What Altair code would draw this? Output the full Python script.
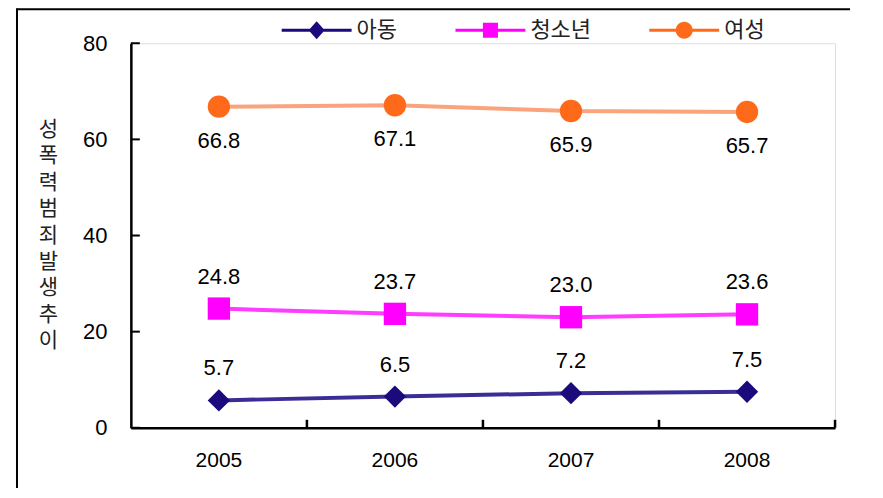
import altair as alt
import pandas as pd

years = ["2005", "2006", "2007", "2008"]
series_names = ["아동", "청소년", "여성"]
child = [5.7, 6.5, 7.2, 7.5]
youth = [24.8, 23.7, 23.0, 23.6]
women = [66.8, 67.1, 65.9, 65.7]
y_ticks = [0, 20, 40, 60, 80]

marker_colors = ["#1a0a7c", "#ff00ff", "#ff6a1a"]
line_colors = ["#3a2e96", "#ff3cff", "#f9a47e"]
shapes = ["diamond", "square", "circle"]

LINE = "M-1,-0.045H1V0.045H-1Z"
legend_paths = [
    LINE + "M0,-0.26L0.23,0L0,0.26L-0.23,0Z",
    LINE + "M-0.215,-0.215H0.215V0.215H-0.215Z",
    LINE + "M0.243,0A0.243,0.243 0 1,1 -0.243,0A0.243,0.243 0 1,1 0.243,0Z",
]

rows = []
for name, vals in zip(series_names, [child, youth, women]):
    for yr, v in zip(years, vals):
        rows.append({"year": yr, "series": name, "value": v, "label": f"{v:.1f}"})
df = pd.DataFrame(rows)

FONT = "Liberation Sans"
KFONT = "Noto Sans CJK KR"

xs = alt.Scale(domain=years, paddingInner=0, paddingOuter=0)
ys = alt.Scale(domain=[0, 80])

x_enc = alt.X("year:N", scale=xs, sort=years,
              axis=alt.Axis(title=None, ticks=False, labelAngle=0, labelPadding=22,
                            labelFontSize=21, labelFont=FONT, labelColor="black",
                            domainColor="black", domainWidth=2.5))
y_enc = alt.Y("value:Q", scale=ys,
              axis=alt.Axis(values=y_ticks, ticks=False, grid=False, labelPadding=24,
                            labelFontSize=22, labelFont=FONT, labelColor="black",
                            domainColor="black", domainWidth=2.5,
                            title=list("성폭력범죄발생추이"), titleAngle=0,
                            titleAlign="center", titleBaseline="top",
                            titleX=-83, titleY=75, titleLineHeight=26.5,
                            titleFontSize=21, titleFont=KFONT,
                            titleFontWeight="normal", titleColor="#222222"))

base = alt.Chart(df)

lines = base.mark_line(strokeWidth=4).encode(
    x=x_enc, y=y_enc,
    color=alt.Color("series:N", scale=alt.Scale(domain=series_names, range=line_colors), legend=None),
    detail="series:N",
)

points = base.mark_point(filled=True, size=500, opacity=1).encode(
    x=alt.X("year:N", scale=xs, sort=years),
    y=alt.Y("value:Q", scale=ys),
    color=alt.Color("series:N", scale=alt.Scale(domain=series_names, range=marker_colors), legend=None),
    shape=alt.Shape("series:N", scale=alt.Scale(domain=series_names, range=shapes), legend=None),
)

labels_above = base.transform_filter(alt.datum.series != "여성").mark_text(
    dy=-32, fontSize=22, font=FONT, color="black").encode(
    x=alt.X("year:N", scale=xs, sort=years),
    y=alt.Y("value:Q", scale=ys),
    text="label:N",
)
labels_below = base.transform_filter(alt.datum.series == "여성").mark_text(
    dy=34, fontSize=22, font=FONT, color="black").encode(
    x=alt.X("year:N", scale=xs, sort=years),
    y=alt.Y("value:Q", scale=ys),
    text="label:N",
)

leg = alt.Legend(title=None, orient="none", direction="horizontal",
                 legendX=151, legendY=-48, padding=0,
                 symbolSize=4900, symbolStrokeWidth=0, symbolOpacity=1,
                 labelOffset=5, columnPadding=58,
                 labelFontSize=22, labelFont=KFONT, labelColor="#222222")

legend_carrier = base.mark_point(filled=True, clip=True, opacity=1).encode(
    x=alt.X("year:N", scale=xs, sort=years),
    y=alt.value(-2000),
    color=alt.Color("series:N", scale=alt.Scale(domain=series_names, range=marker_colors), legend=leg),
    shape=alt.Shape("series:N", scale=alt.Scale(domain=series_names, range=legend_paths), legend=leg),
)

tick_df = pd.DataFrame({"value": y_ticks})
y_tick_rules = alt.Chart(tick_df).mark_rule(color="black", strokeWidth=2).encode(
    y=alt.Y("value:Q", scale=ys), x=alt.value(0), x2=alt.value(9))

xt_df = pd.DataFrame({"year": years})
x_tick_rules = alt.Chart(xt_df).mark_rule(color="black", strokeWidth=2.5).encode(
    x=alt.X("year:N", scale=xs, sort=years, bandPosition=1),
    y=alt.value(385), y2=alt.value(377))

frame_df = pd.DataFrame({"k": [0]})
frame_top = alt.Chart(frame_df).mark_rule(color="black", strokeWidth=2).encode(
    x=alt.value(-114), x2=alt.value(720), y=alt.value(-34))
frame_left = alt.Chart(frame_df).mark_rule(color="black", strokeWidth=2).encode(
    x=alt.value(-114), y=alt.value(-35), y2=alt.value(470))

chart = alt.layer(
    frame_top, frame_left, lines, points, labels_above, labels_below,
    y_tick_rules, x_tick_rules, legend_carrier
).resolve_scale(color="independent", shape="independent").properties(
    width=705, height=385,
    autosize=alt.AutoSizeParams(type="none"),
    padding={"left": 123, "top": 35, "right": 40, "bottom": 60},
).configure_view(stroke=None).configure(background="white")

chart.save("out.html", embed_options={"renderer": "svg", "actions": False})
